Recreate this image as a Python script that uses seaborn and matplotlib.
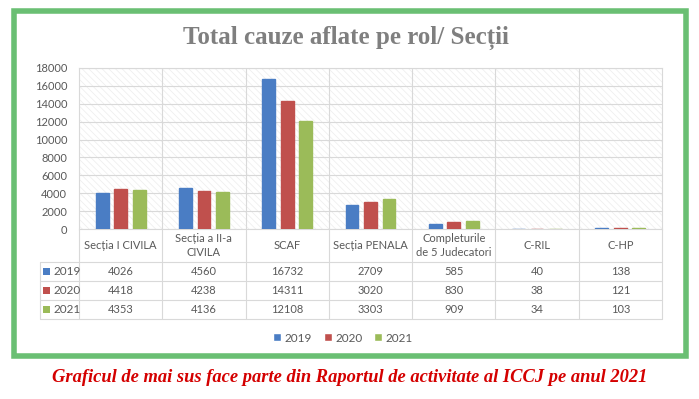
import matplotlib
matplotlib.use("Agg")
import matplotlib.pyplot as plt
import seaborn as sns
import pandas as pd
from matplotlib.patches import Rectangle
from matplotlib.lines import Line2D

categories = ["Secția I CIVILA", "Secția a II-a\nCIVILA", "SCAF", "Secția PENALA",
              "Completurile\nde 5 Judecatori", "C-RIL", "C-HP"]
years = ["2019", "2020", "2021"]
v2019 = [4026, 4560, 16732, 2709, 585, 40, 138]
v2020 = [4418, 4238, 14311, 3020, 830, 38, 121]
v2021 = [4353, 4136, 12108, 3303, 909, 34, 103]
yticks = list(range(0, 18001, 2000))
title = "Total cauze aflate pe rol/ Secții"
caption = "Graficul de mai sus face parte din Raportul de activitate al ICCJ pe anul 2021"
colors = ["#4a7dc4", "#c0504d", "#9bbb59"]

series = {"2019": v2019, "2020": v2020, "2021": v2021}
rows = []
for y, vals in series.items():
    for c, v in zip(categories, vals):
        rows.append({"cat": c, "year": y, "val": v})
df = pd.DataFrame(rows)

sns.set_style("white")
plt.rcParams["font.family"] = ["Lato", "DejaVu Sans"]
plt.rcParams["hatch.linewidth"] = 0.5

W, H = 699, 399
fig = plt.figure(figsize=(W / 100, H / 100), dpi=100)
fig.patch.set_facecolor("white")

# overlay in pixel coordinates
oax = fig.add_axes([0, 0, 1, 1], zorder=0)
oax.set_xlim(0, W)
oax.set_ylim(H, 0)
oax.axis("off")

x0, x1, ytop, ybot = 79, 662, 68, 229
ax = fig.add_axes([x0 / W, (H - ybot) / H, (x1 - x0) / W, (ybot - ytop) / H], zorder=2)
ax.set_facecolor("white")
ax.add_patch(Rectangle((0, 0), 1, 1, transform=ax.transAxes, facecolor="white",
                       edgecolor="#ededed", hatch="\\\\\\\\\\", linewidth=0, zorder=0))

sns.barplot(data=df, x="cat", y="val", hue="year", palette=colors, width=0.667, gap=0.31,
            ax=ax, saturation=1, zorder=3, legend=True)
for cont in ax.containers:
    for b in cont:
        b.set_edgecolor(b.get_facecolor())
        b.set_linewidth(1.0)
ax.set_xlim(-0.5, len(categories) - 0.5)
ax.set_ylim(0, 18000)
ax.set_yticks(yticks)
ax.set_yticklabels([str(t) for t in yticks])
ax.set_xticks([])
ax.set_xlabel("")
ax.set_ylabel("")
ax.tick_params(axis="y", length=0, pad=8.5, labelsize=8, labelcolor="#595959")
ax.set_axisbelow(True)
ax.yaxis.grid(True, color="#d9d9d9", lw=0.8, zorder=1)
for i in range(1, len(categories)):
    ax.axvline(i - 0.5, color="#d9d9d9", lw=0.8, zorder=1)
for s in ax.spines.values():
    s.set_color("#d9d9d9")
    s.set_linewidth(0.8)

sns.move_legend(ax, "center", bbox_to_anchor=((343 - x0) / (x1 - x0), (ybot - 338) / (ybot - ytop)),
                ncol=3, frameon=False, title=None, fontsize=8.5, handlelength=0.65,
                handleheight=0.65, handletextpad=0.3, columnspacing=1.0)
for t in ax.get_legend().get_texts():
    t.set_color("#595959")

# data table
lc = "#d9d9d9"
colw = (x1 - x0) / len(categories)
row_edges = [262, 281, 300, 319]
for yy in row_edges:
    oax.add_line(Line2D([40, x1], [yy, yy], color=lc, lw=0.8))
for i in range(len(categories) + 1):
    xx = x0 + i * colw
    oax.add_line(Line2D([xx, xx], [ybot, 319], color=lc, lw=0.8))
oax.add_line(Line2D([40, 40], [262, 319], color=lc, lw=0.8))
for i, c in enumerate(categories):
    oax.text(x0 + (i + 0.5) * colw, 245.5, c, ha="center", va="center", fontsize=8,
             color="#595959", linespacing=1.35)
for r, (y, vals) in enumerate(series.items()):
    yc = (row_edges[r] + row_edges[r + 1]) / 2
    oax.add_patch(Rectangle((43, yc - 3.3), 6.5, 6.5, facecolor=colors[r], edgecolor="none"))
    oax.text(54, yc, y, ha="left", va="center", fontsize=8.5, color="#595959")
    for i, v in enumerate(vals):
        oax.text(x0 + (i + 0.5) * colw, yc, str(v), ha="center", va="center", fontsize=8,
                 color="#595959")

# title
oax.text(346, 38, title, ha="center", va="center", fontsize=18, fontweight="bold",
         family="Liberation Serif", color="#7f7f7f")

# green frame
oax.add_patch(Rectangle((13.5, 11), 672, 344.5, facecolor="none", edgecolor="#6abf73", lw=4))

# caption
oax.text(350, 378, caption, ha="center", va="center", fontsize=13.3, fontweight="bold",
         fontstyle="italic", family="Liberation Serif", color="#d40000")

fig.savefig("out.png", dpi=100)
